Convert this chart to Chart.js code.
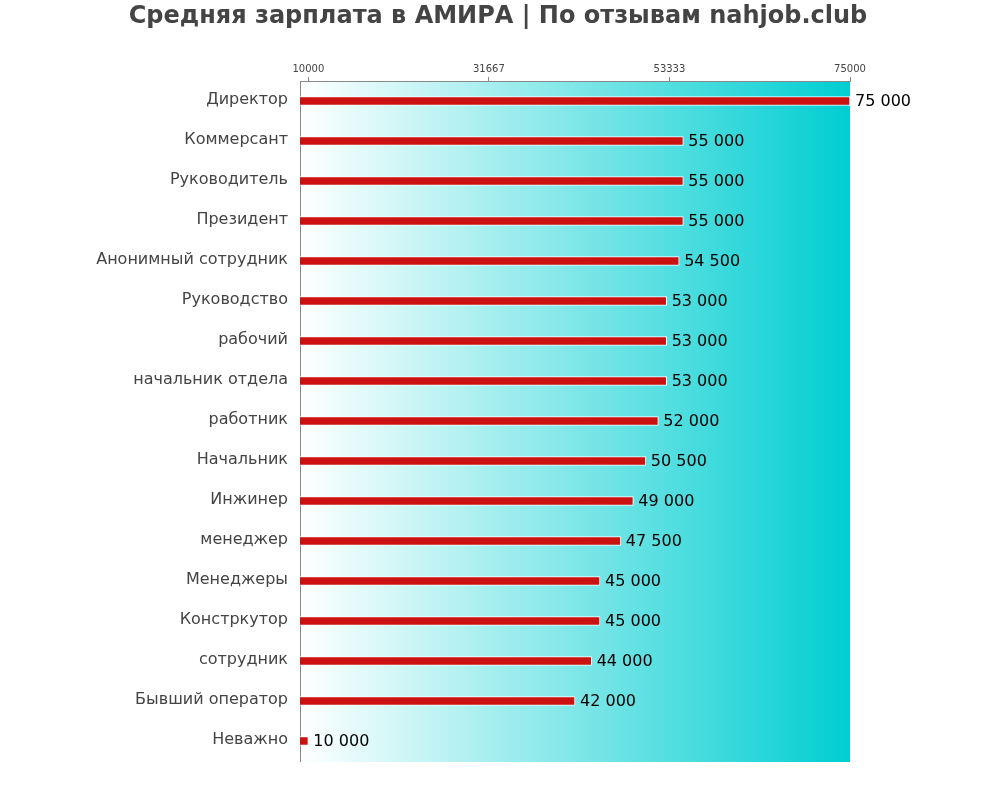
<!DOCTYPE html>
<html>
<head>
<meta charset="utf-8">
<script src="https://cdn.jsdelivr.net/npm/chart.js@4"></script>
<style>
  html, body { margin: 0; padding: 0; background: #fff; }
  #wrap { width: 1000px; height: 800px; }
</style>
</head>
<body>
<div id="wrap"><canvas id="grafico" width="1000" height="800"></canvas></div>
<script>
const titulo = 'Средняя зарплата в АМИРА | По отзывам nahjob.club';

const profesiones = [
  'Директор', 'Коммерсант', 'Руководитель', 'Президент', 'Анонимный сотрудник',
  'Руководство', 'рабочий', 'начальник отдела', 'работник', 'Начальник',
  'Инжинер', 'менеджер', 'Менеджеры', 'Констркутор', 'сотрудник',
  'Бывший оператор', 'Неважно'
];
const salarios = [
  75000, 55000, 55000, 55000, 54500,
  53000, 53000, 53000, 52000, 50500,
  49000, 47500, 45000, 45000, 44000,
  42000, 10000
];
const marcas = [10000, 31667, 53333, 75000];

const fmt = v => String(v).replace(/\B(?=(\d{3})+(?!\d))/g, ' ');

// gradient behind the bars + title + value labels
const extras = {
  id: 'extras',
  beforeDraw(chart) {
    const { ctx, chartArea: a } = chart;
    const g = ctx.createLinearGradient(a.left, 0, a.right, 0);
    g.addColorStop(0, '#ffffff');
    g.addColorStop(1, '#00ced1');
    ctx.save();
    ctx.fillStyle = g;
    ctx.fillRect(a.left, a.top, a.right - a.left, a.bottom - a.top + 1);
    ctx.restore();
  },
  afterDraw(chart) {
    const ctx = chart.ctx;
    ctx.save();
    ctx.fillStyle = '#444';
    ctx.font = 'bold 24px "DejaVu Sans"';
    ctx.textAlign = 'center';
    ctx.textBaseline = 'middle';
    ctx.fillText(titulo, 498, 17);

    ctx.fillStyle = '#000';
    ctx.font = '16px "DejaVu Sans"';
    ctx.textAlign = 'left';
    const meta = chart.getDatasetMeta(0);
    meta.data.forEach((bar, i) => {
      ctx.fillText(fmt(salarios[i]), bar.x + 5, bar.y + 1);
    });
    ctx.restore();
  }
};

new Chart(document.getElementById('grafico'), {
  type: 'bar',
  data: {
    labels: profesiones,
    datasets: [{
      data: salarios,
      backgroundColor: '#cc1111',
      borderColor: '#ffffff',
      borderWidth: 1,
      borderSkipped: false,
      barThickness: 9
    }]
  },
  options: {
    indexAxis: 'y',
    responsive: false,
    animation: false,
    layout: { padding: { top: 51, right: 150, bottom: 39, left: 0 } },
    plugins: {
      legend: { display: false },
      title: { display: false },
      tooltip: { enabled: false }
    },
    scales: {
      x: {
        position: 'top',
        min: 9000,
        max: 75000,
        afterBuildTicks: s => { s.ticks = marcas.map(v => ({ value: v })); },
        afterFit: s => { s.height = 30; },
        ticks: {
          color: '#444',
          font: { family: '"DejaVu Sans"', size: 10 },
          padding: 2,
          maxRotation: 0,
          autoSkip: false,
          callback: v => String(v)
        },
        grid: { drawOnChartArea: false, tickLength: 4, color: '#888' },
        border: { display: true, color: '#888' }
      },
      y: {
        afterFit: s => { s.width = 300; },
        ticks: {
          color: '#444',
          font: { family: '"DejaVu Sans"', size: 16 },
          padding: 12,
          labelOffset: -1
        },
        grid: { display: false, drawTicks: false },
        border: { display: true, color: '#888' }
      }
    }
  },
  plugins: [extras]
});
</script>
</body>
</html>
